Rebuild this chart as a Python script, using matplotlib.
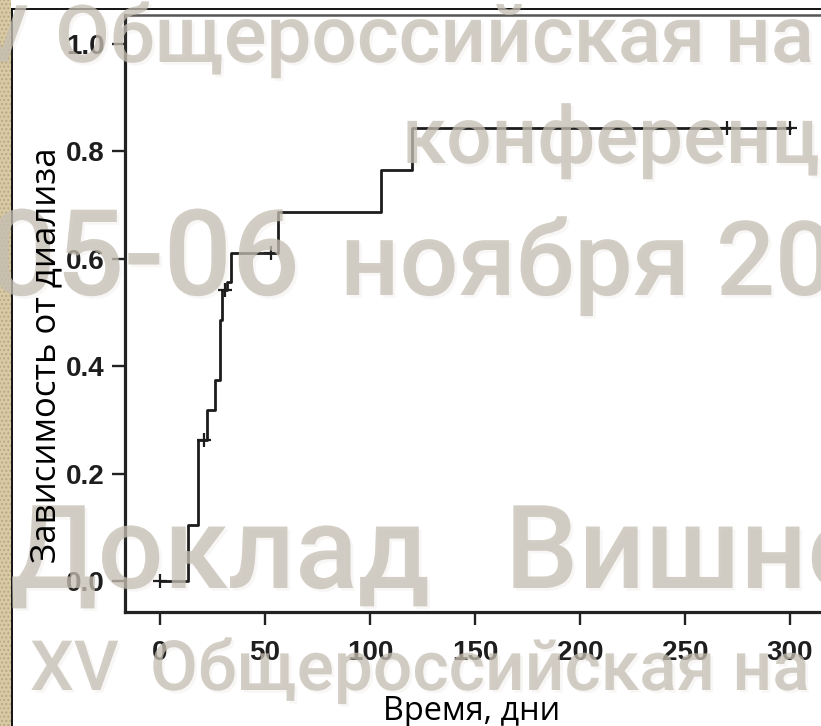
import matplotlib
matplotlib.use('Agg')
import matplotlib.pyplot as plt
from matplotlib.patches import Rectangle
from matplotlib.lines import Line2D
import matplotlib.patheffects as pe
import numpy as np

# ---------------- data ----------------
event_days = [0, 13.5, 18, 22.5, 26, 28.5, 29.5, 32, 34, 56, 105, 120]
cum_dependence = [0.0, 0.105, 0.263, 0.318, 0.374, 0.486, 0.542, 0.556, 0.611, 0.687, 0.765, 0.844]
end_day = 300
censor_days = [0, 21, 31, 53, 270, 300]

x_ticks = [0, 50, 100, 150, 200, 250, 300]
y_ticks = [0.0, 0.2, 0.4, 0.6, 0.8, 1.0]
y_tick_labels = ["0.0", "0.2", "0.4", "0.6", "0.8", "1.0"]

x_label = "Время, дни"
y_label = "Зависимость от диализа"

# ---------------- figure ----------------
W, H = 821, 726
fig = plt.figure(figsize=(W / 100, H / 100), dpi=100)
fig.patch.set_facecolor('white')


def fx(px):
    return px / W


def fy(py):
    return 1 - py / H


ax = fig.add_axes([fx(125), fy(612), fx(884.5) - fx(125), fy(15) - fy(612)])
ax.set_xlim(-16.7, 345)
ax.set_ylim(-0.0577, 1.054)

line_col = '#1c1c1c'
xs = event_days + [end_day]
ys = cum_dependence + [cum_dependence[-1]]
ax.step(xs, ys, where='post', color=line_col, lw=2.0, zorder=3)

idx = np.searchsorted(np.array(event_days), np.array(censor_days), side='right') - 1
censor_vals = [cum_dependence[i] for i in idx]
ax.plot(censor_days, censor_vals, '+', ms=10, mew=1.6, color=line_col, zorder=4)

for side in ['left', 'bottom']:
    ax.spines[side].set_linewidth(2.3)
    ax.spines[side].set_color('#222222')
ax.spines['top'].set_linewidth(1.8)
ax.spines['top'].set_color('#555555')
ax.spines['right'].set_visible(False)

ax.set_xticks(x_ticks)
ax.set_xticklabels([str(v) for v in x_ticks])
ax.set_yticks(y_ticks)
ax.set_yticklabels(y_tick_labels)
ax.tick_params(direction='out', length=9.5, width=1.7, color='#222222',
               labelsize=20, labelcolor='#1e1e1e', top=False, right=False)
ax.tick_params(axis='x', pad=11)
ax.tick_params(axis='y', pad=5)
for lab in ax.get_xticklabels() + ax.get_yticklabels():
    lab.set_fontfamily(['Liberation Sans', 'DejaVu Sans'])
    lab.set_fontweight('bold')

# ---------------- slide frame ----------------
fig.patches.append(Rectangle((0, 0), fx(11), 1, transform=fig.transFigure,
                             facecolor='#d8caa6', edgecolor='#bba97f', hatch='....',
                             lw=0, zorder=1))
fig.lines.append(Line2D([fx(12), fx(12)], [0, fy(9)], transform=fig.transFigure,
                        color='black', lw=1.3, zorder=2))
fig.lines.append(Line2D([fx(12), 1], [fy(9), fy(9)], transform=fig.transFigure,
                        color='black', lw=1.3, zorder=2))

# ---------------- watermark ----------------
renderer = fig.canvas.get_renderer()
wm_family = ['Roboto', 'Open Sans', 'DejaVu Sans']
wm_weight = 'medium'


def fit_size(s, width_px):
    t = fig.text(0, 0, s, fontsize=100, family=wm_family, weight=wm_weight)
    w = t.get_window_extent(renderer).width
    t.remove()
    return 100 * width_px / w


wm_kw = dict(color='#c6bfb3', alpha=0.5, family=wm_family, weight=wm_weight,
             va='baseline', zorder=5,
             path_effects=[pe.withSimplePatchShadow(offset=(2, -2), shadow_rgbFace='#a09888', alpha=0.07),
                           pe.Normal()])

size_a = fit_size("Общероссийская", 650)
fig.text(fx(28), fy(62), "XV", ha='right', fontsize=size_a, **wm_kw)
fig.text(fx(55), fy(62), "Общероссийская на", ha='left', fontsize=size_a, **wm_kw)
fig.text(fx(402), fy(163), "конференц", ha='left', fontsize=size_a, **wm_kw)

size_c = fit_size("05-06", 312)
size_c2 = fit_size("ноября", 350)
fig.text(fx(-12), fy(295), "05-06", ha='left', fontsize=size_c, **wm_kw)
fig.text(fx(340), fy(295), "ноября 20", ha='left', fontsize=size_c2, **wm_kw)

size_d = fit_size("Доклад", 420)
fig.text(fx(10), fy(588), "Доклад", ha='left', fontsize=size_d, **wm_kw)
fig.text(fx(505), fy(588), "Вишне", ha='left', fontsize=size_d, **wm_kw)

size_e = fit_size("Общероссийская", 565)
fig.text(fx(30), fy(690), "XV", ha='left', fontsize=size_e, **wm_kw)
fig.text(fx(150), fy(690), "Общероссийская на", ha='left', fontsize=size_e, **wm_kw)

# ---------------- axis labels ----------------
fig.patches.append(Rectangle((fx(370), 0), fx(590) - fx(370), fy(693), transform=fig.transFigure,
                             facecolor='white', edgecolor='none', zorder=8))
lab_family = ['Open Sans', 'DejaVu Sans']
fig.text(fx(472), fy(720), x_label, ha='center', va='baseline', fontsize=23.4,
         family=lab_family, color='black', zorder=10)
fig.text(fx(46), fy(355), y_label, rotation=90, ha='center', va='center', fontsize=25,
         family=lab_family, color='black', zorder=10)

fig.savefig('out.png', dpi=100, facecolor='white')
